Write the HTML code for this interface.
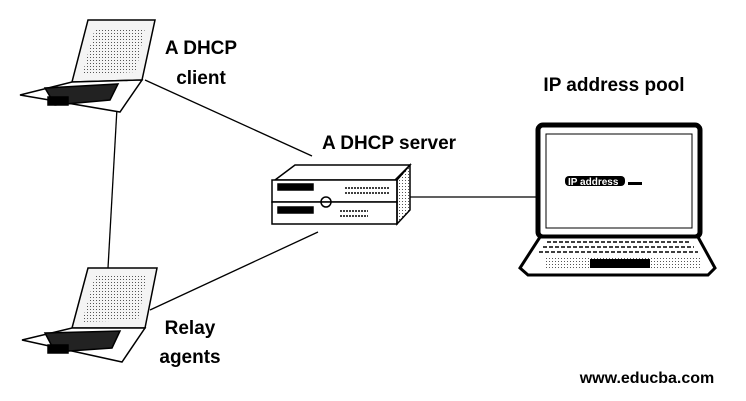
<!DOCTYPE html>
<html><head><style>
html,body{margin:0;padding:0;background:#fff;}
svg{display:block}
text{font-family:"Liberation Sans",sans-serif;font-weight:bold;fill:#000}
</style></head><body>
<svg width="746" height="401" viewBox="0 0 746 401">
<!-- connectors -->
<g stroke="#000" stroke-width="1.3" fill="none">
<line x1="145" y1="80" x2="312" y2="156"/>
<line x1="117" y1="108" x2="108" y2="268"/>
<line x1="150" y1="310" x2="318" y2="232"/>
<line x1="410" y1="197" x2="537" y2="197"/>
</g>
<!-- top laptop -->
<g stroke="#000" fill="none" stroke-width="1.5">
<polygon points="88,20 155,20 142,80 72,82" fill="#f4f4f4"/>
<polygon points="95,28 145,28 136,72 82,75" fill="url(#dots)" stroke="none"/>
<polygon points="72,82 142,80 120,112 20,95" fill="#fff"/>
<polygon points="45,88 118,84 110,100 55,105" fill="#222"/>
<rect x="48" y="97" width="20" height="8" fill="#000"/>
</g>
<!-- bottom laptop -->
<g stroke="#000" fill="none" stroke-width="1.5">
<polygon points="88,268 157,268 145,328 72,328" fill="#f4f4f4"/>
<polygon points="95,276 147,276 138,320 82,322" fill="url(#dots)" stroke="none"/>
<polygon points="72,328 145,328 122,362 22,340" fill="#fff"/>
<polygon points="45,333 120,331 112,348 55,352" fill="#222"/>
<rect x="48" y="345" width="20" height="8" fill="#000"/>
</g>
<defs>
<pattern id="dots" width="3" height="3" patternUnits="userSpaceOnUse"><rect width="1" height="1" fill="#555"/></pattern>
</defs>
<!-- server -->
<g stroke="#000" stroke-width="1.5" fill="#fff">
<polygon points="275,180 295,165 410,165 395,180"/>
<rect x="272" y="180" width="125" height="22"/>
<rect x="272" y="202" width="125" height="22"/>
<polygon points="397,180 410,165 410,210 397,224" fill="url(#dots)"/>
<rect x="278" y="184" width="35" height="6" fill="#000"/>
<rect x="278" y="207" width="35" height="6" fill="#000"/>
<circle cx="326" cy="202" r="5" fill="none"/>
<line x1="345" y1="188" x2="390" y2="188" stroke-dasharray="2,1"/>
<line x1="345" y1="193" x2="390" y2="193" stroke-dasharray="2,1"/>
<line x1="340" y1="211" x2="368" y2="211" stroke-dasharray="2,1"/>
<line x1="340" y1="216" x2="368" y2="216" stroke-dasharray="2,1"/>
</g>
<!-- right laptop -->
<g stroke="#000" fill="#fff">
<rect x="538" y="125" width="162" height="112" rx="5" stroke-width="5"/>
<rect x="546" y="134" width="146" height="94" fill="#fff" stroke-width="1"/>
<polygon points="540,237 698,237 715,268 708,275 528,275 520,268" stroke-width="3"/>
<g stroke="#000" stroke-width="1.5" stroke-dasharray="4,2">
<line x1="547" y1="242" x2="690" y2="242"/>
<line x1="543" y1="247" x2="694" y2="247"/>
<line x1="539" y1="252" x2="698" y2="252"/>
</g>
<rect x="545" y="258" width="155" height="12" fill="url(#dots)" stroke="none"/>
<rect x="590" y="259" width="60" height="9" fill="#000" stroke="none"/>
</g>
<rect x="565" y="176" width="60" height="10" rx="4" fill="#000"/>
<text x="568" y="185" font-size="10" style="fill:#fff">IP address</text>
<rect x="628" y="182" width="14" height="3" fill="#000"/>
<!-- labels -->
<text x="201" y="54" font-size="19" text-anchor="middle">A DHCP</text>
<text x="201" y="84" font-size="19" text-anchor="middle">client</text>
<text x="614" y="91" font-size="19" text-anchor="middle">IP address pool</text>
<text x="389" y="149" font-size="19" text-anchor="middle">A DHCP server</text>
<text x="190" y="334" font-size="19" text-anchor="middle">Relay</text>
<text x="190" y="363" font-size="19" text-anchor="middle">agents</text>
<text x="647" y="383" font-size="16" text-anchor="middle">www.educba.com</text>
</svg>
</body></html>
